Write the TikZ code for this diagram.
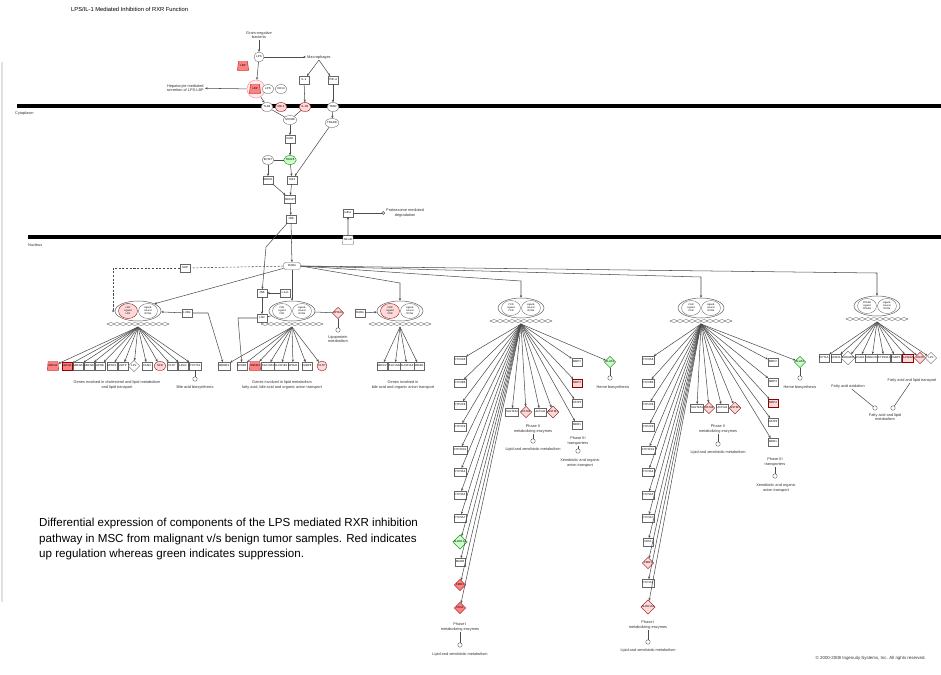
\documentclass[tikz,border=0pt]{standalone}
\usepackage{fontspec}
\setmainfont{Liberation Sans}
\usetikzlibrary{shapes.geometric,arrows.meta,positioning}

\newcommand{\genefont}{\fontsize{1.6}{1.9}\selectfont}
\newcommand{\txtfont}{\fontsize{2.2}{2.7}\selectfont}
\newcommand{\cplxfont}{\fontsize{1.4}{1.7}\selectfont}

\tikzset{
  lnk/.style={draw=black!70, line width=0.3pt},
  arr/.style={lnk, -{Stealth[length=1.5pt,width=1.3pt]}},
  dsh/.style={lnk, dash pattern=on 1.2pt off 0.9pt},
  gene/.style={draw=black!60, line width=0.2pt, fill=white, font=\genefont, inner sep=0.3pt},
  gbox/.style={gene, rectangle, minimum width=0.2cm, minimum height=0.15cm},
  gdia/.style={gene, diamond, inner sep=0pt, minimum width=0.23cm, minimum height=0.23cm},
  gell/.style={gene, ellipse, inner sep=0pt, minimum width=0.24cm, minimum height=0.18cm},
  gcir/.style={gene, circle, inner sep=0pt, minimum size=0.2cm},
  gtrap/.style={gene, trapezium, trapezium stretches=true, trapezium left angle=75,
    trapezium right angle=75, inner sep=0pt, minimum height=0.18cm, minimum width=0.22cm},
  up/.style={fill=red!50, draw=red!60!black},
  upl/.style={fill=red!15, draw=red!55!black},
  dn/.style={fill=green!22, draw=green!45!black},
  nc/.style={},
  proc/.style={draw=black!60, line width=0.25pt, circle, inner sep=0pt, minimum size=0.09cm},
  txt/.style={font=\txtfont, align=center, text=black!80, inner sep=0.5pt},
  membrane/.style={line width=0.08cm, black},
  cplx/.style={draw=black!60, line width=0.3pt, ellipse, minimum width=0.92cm, minimum height=0.4cm, fill=white},
  cpart/.style={draw=black!60, line width=0.2pt, ellipse, inner sep=0pt,
    minimum width=0.38cm, minimum height=0.3cm, font=\cplxfont, align=center},
  dna/.style={draw=black!50, line width=0.25pt}
}

% heterodimer on its DNA: name, x, y, left part, right part, style of left part
\newcommand{\rxrcplx}[6]{%
  \begin{scope}[shift={(#2,#3)}]
    \draw[dna] plot[domain=-31:31,samples=41,smooth] (\x,{13+1.5*sin(\x*30)});
    \draw[dna] plot[domain=-31:31,samples=41,smooth] (\x,{13-1.5*sin(\x*30)});
    \node[cplx] (#1) at (0,0) {};
    \node[cpart,#6] (#1l) at (-10,0) {#4};
    \node[cpart] (#1r) at (10,0) {#5};
    \coordinate (#1d) at (0,16);
  \end{scope}}

\begin{document}
\begin{tikzpicture}[x=0.02cm,y=-0.02cm]
  \useasboundingbox (0,0) rectangle (941,674);

  \node[anchor=west,font=\fontsize{3.3}{4}\selectfont] (title) at (65,9) {LPS/IL-1 Mediated Inhibition of RXR Function};
  \draw[black!12,line width=0.6pt] (2,62) -- (2,602);

  \draw[membrane] (17,106) -- (941,106);
  \node[txt,anchor=west] (cyto) at (14,113) {Cytoplasm};
  \draw[membrane] (28,237) -- (941,237);
  \node[txt,anchor=west] (nucl) at (27,245) {Nucleus};

  % outside the cell and membrane
  \node[txt] (gnb) at (259,35) {Gram-negative\\bacteria};
  \node[gcir] (lps) at (259,57) {LPS};
  \node[gtrap,up] (lbp) at (243,66) {LBP};
  \node[txt,anchor=west] (mac) at (306,57) {Macrophages};
  \node[circle,draw=red!40,line width=0.3pt,fill=red!8,minimum size=0.36cm] (lpslbp) at (256,89) {};
  \node[gtrap,up] (lbp2) at (255,89) {LBP};
  \node[gell] (lps2) at (268,89) {LPS};
  \node[gell] (cd14) at (281,89) {CD14};
  \node[txt,anchor=east] (hep) at (205,88) {Hepatocyte mediated\\secretion of LPS-LBP};
  \node[gbox] (il1) at (304,80) {IL-1};
  \node[gbox] (tnfa) at (333,80) {TNF-α};
  \node[gell] (tlr4) at (267,107) {TLR4};
  \node[gell,upl] (md2) at (281,107) {MD-2};
  \node[gell,upl] (il1r) at (305,107) {IL-1R};
  \node[gell] (tnfr) at (333,107) {TNFR};

  \draw[arr] (gnb) -- (lps);
  \draw[arr] (lps) -- (mac);
  \draw[arr] (lps) -- (lpslbp);
  \draw[arr] (lpslbp) -- (hep);
  \draw[arr] (mac.south) -- (il1);
  \draw[arr] (mac.south) -- (tnfa);
  \draw[arr] (il1) -- (il1r);
  \draw[arr] (tnfa) -- (tnfr);
  \draw[arr] (lpslbp) -- (tlr4);

  % cytoplasm
  \node[gell] (myd88) at (290,120) {MYD88};
  \node[gell] (tradd) at (332,123) {TRADD};
  \node[gbox] (irak) at (290,139) {IRAK};
  \node[gell,dn] (traf6) at (290,160) {TRAF6};
  \node[gell] (ecsit) at (268,160) {ECSIT};
  \node[gbox] (mekk1) at (268,180) {MEKK1};
  \node[gbox] (tak1) at (292,180) {TAK1};
  \node[gbox] (mkk) at (290,199) {MKK4/7};
  \node[gbox] (jnk) at (291,219) {JNK};
  \node[gbox] (ikb) at (348,213) {IκB-α};
  \node[txt,anchor=west] (prot) at (385,213) {Proteasome mediated\\degradation};
  \node[gtrap] (nfkb) at (348,240) {NF-κB};

  \draw[lnk] (tlr4) -- (myd88);
  \draw[lnk] (il1r) -- (myd88);
  \draw[arr] (tnfr) -- (tradd);
  \draw[arr] (myd88) -- (irak);
  \draw[arr] (irak) -- (traf6);
  \draw[lnk] (ecsit) -- (traf6);
  \draw[arr] (ecsit) -- (mekk1);
  \draw[arr] (traf6) -- (tak1);
  \draw[arr] (tradd) -- (tak1);
  \draw[arr] (mekk1) -- (mkk);
  \draw[arr] (tak1) -- (mkk);
  \draw[arr] (mkk) -- (jnk);
  \draw[lnk,-{Circle[open,length=2pt]}] (ikb) -- (prot);
  \draw[arr] (nfkb) -- (ikb);

  % nucleus
  \rxrcplx{c1}{138}{311}{LXR\\Ligand\\LXR}{Ligand-\\bound\\RXRα}{upl}
  \rxrcplx{c2}{292}{311}{FXR\\Ligand\\FXR}{Ligand-\\bound\\RXRα}{nc}
  \rxrcplx{c3}{400}{311}{VDR\\Ligand\\VDR}{Ligand-\\bound\\RXRα}{upl}
  \rxrcplx{c4}{521}{308}{PXR\\Ligand\\PXR}{Ligand-\\bound\\RXRα}{nc}
  \rxrcplx{c5}{701}{308}{CAR\\Ligand\\CAR}{Ligand-\\bound\\RXRα}{nc}
  \rxrcplx{c6}{877}{306}{PPARα\\Ligand\\PPARα}{Ligand-\\bound\\RXRα}{nc}

  \node[gbox,rounded corners=1pt,minimum width=0.34cm] (rxr) at (292,266) {RXRα};
  \node[gbox] (pjnk) at (262,293) {JNK};
  \node[gbox] (cjun) at (285,293) {c-Jun};
  \node[gbox] (lxrs) at (262,318) {LXR};
  \node[gbox] (shp) at (185,268) {SHP};
  \node[gbox] (lxra) at (187,313) {LXRα};
  \node[gbox] (rara) at (360,313) {RARα};
  \coordinate (jb) at (266,247);
  \coordinate (dk) at (113,268);
  \coordinate (lk) at (208,313);
  \coordinate (lxb) at (238,318);
  \coordinate (k3) at (400,283);
  \coordinate (k4) at (521,281);
  \coordinate (k5) at (701,277);
  \coordinate (k6) at (877,273);

  \draw[arr] (jnk) -- (rxr);
  \draw[arr] (jnk) -- (jb) -- (pjnk);
  \draw[arr] (cjun) -- (pjnk);
  \draw[arr] (pjnk) -- (lxrs);
  \draw[lnk] (lxrs) -- (c2);
  \draw[arr] (rxr) -- (c1.north east);
  \draw[arr] (rxr) -- (c2);
  \draw[arr] (rxr.east) -- (k3) -- (c3);
  \draw[arr] (rxr.east) -- (k4) -- (c4);
  \draw[arr] (rxr.east) -- (k5) -- (c5);
  \draw[arr] (rxr.east) -- (k6) -- (c6);
  \draw[dsh] (rxr) -- (shp);
  \draw[dsh,-{Stealth[length=1.5pt,width=1.3pt]}] (shp) -- (dk) |- (c1.west);
  \draw[arr] (lxra) -- (c1);
  \draw[arr] (rara) -- (c3);

  % LXR/RXR targets
  \foreach \gx/\gn/\gsh/\gc [count=\i] in {53/ABCA1/gtrap/up, 67/ABCG1/gbox/up, 78/ABCG5/gbox/nc,
      89/ABCG8/gbox/nc, 100/APOE/gbox/nc, 112/APOC1/gbox/nc, 123/CETP/gbox/nc, 134/LPL/gdia/nc,
      147/FASN/gbox/nc, 160/SCD/gell/upl, 172/PLTP/gbox/nc, 183/LDLR/gbox/nc, 195/CYP7A1/gbox/nc}{
    \node[\gsh,\gc] (c1g\i) at (\gx,366) {\gn};
    \draw[arr] (c1d) -- (c1g\i);
  }
  \node[txt] (c1t) at (117,385) {Genes involved in cholesterol and lipid metabolism\\and lipid transport};
  \node[proc] (c1p) at (195,379) {};
  \node[txt] (c1pt) at (195,387) {Bile acid biosynthesis};
  \draw[lnk] (c1g13) -- (c1p);

  % FXR/RXR targets
  \foreach \gx/\gn/\gsh/\gc [count=\i] in {224/SREBF1/gbox/nc, 242/NR0B2/gbox/nc, 255/ABCB4/gtrap/up,
      268/SLC10A1/gbox/nc, 281/SLCO1B1/gbox/nc, 293/APOA1/gbox/nc, 307/FABP6/gbox/nc, 322/PLTP/gcir/upl}{
    \node[\gsh,\gc] (c2g\i) at (\gx,366) {\gn};
    \draw[arr] (c2d) -- (c2g\i);
  }
  \draw[arr] (lxra) -- (lk) -- (c2g1);
  \draw[arr] (lxrs) -- (lxb) -- (c2g2);
  \node[gdia,upl] (apoa4) at (338,313) {APOA4};
  \node[proc] (c2p) at (338,330) {};
  \node[txt] (c2pt) at (338,339) {Lipoprotein\\metabolism};
  \draw[lnk] (c2) -- (apoa4);
  \draw[lnk] (apoa4) -- (c2p);
  \node[txt] (c2t) at (282,385) {Genes involved in lipid metabolism\\fatty acid, bile acid and organic anion transport};

  % third heterodimer
  \foreach \gx/\gn [count=\i] in {382/ABCC2, 395/SLC10A2, 407/SLCO1A2, 419/ABCB1}{
    \node[gbox] (c3g\i) at (\gx,366) {\gn};
    \draw[arr] (c3d) -- (c3g\i);
  }
  \node[txt] (c3t) at (403,385) {Genes involved in\\bile acid and organic anion transport};

  % PXR/RXR targets
  \foreach \gy/\gn/\gsh/\gc [count=\i] in {360/CYP2A6/gbox/nc, 383/CYP2B6/gbox/nc, 405/CYP2C8/gbox/nc,
      427/CYP2C9/gbox/nc, 450/CYP2C19/gbox/nc, 472/CYP3A4/gbox/nc, 495/CYP3A5/gbox/nc,
      518/CYP3A7/gbox/nc, 542/ALDH1A1/gdia/dn, 562/MAOB/gbox/nc, 585/FMO1/gdia/up, 608/CES1/gdia/up}{
    \node[\gsh,\gc] (c4a\i) at (460,\gy) {\gn};
    \draw[arr] (c4d) -- (c4a\i);
  }
  \node[txt] (c4at) at (460,627) {Phase I\\metabolizing enzymes};
  \node[proc] (c4ap) at (460,645) {};
  \node[txt] (c4ax) at (460,654) {Lipid and xenobiotic metabolism};
  \draw[lnk] (c4at) -- (c4ap);
  \foreach \gx/\gn/\gsh/\gc [count=\i] in {512/SULT2A1/gbox/nc, 526/GSTA2/gdia/upl, 540/UGT1A1/gbox/nc, 553/GSTM1/gdia/upl}{
    \node[\gsh,\gc] (c4b\i) at (\gx,412) {\gn};
    \draw[arr] (c4d) -- (c4b\i);
  }
  \node[txt] (c4bt) at (533,429) {Phase II\\metabolizing enzymes};
  \node[proc] (c4bp) at (533,441) {};
  \node[txt] (c4bx) at (533,449) {Lipid and xenobiotic metabolism};
  \draw[lnk] (c4bt) -- (c4bp);
  \foreach \gy/\gn/\gc [count=\i] in {362/MRP2/nc, 383/MRP3/upl, 403/OATP2/nc, 425/MDR1/nc}{
    \node[gbox,\gc] (c4c\i) at (577,\gy) {\gn};
    \draw[arr] (c4d) -- (c4c\i);
  }
  \node[txt] (c4ct) at (578,441) {Phase III\\transporters};
  \node[proc] (c4cp) at (578,451) {};
  \node[txt] (c4cx) at (580,463) {Xenobiotic and organic\\anion transport};
  \draw[lnk] (c4ct) -- (c4cp);
  \node[gdia,dn] (c4e) at (610,362) {ALAS1};
  \node[proc] (c4ep) at (610,378) {};
  \node[txt] (c4ex) at (613,387) {Heme biosynthesis};
  \draw[arr] (c4d) -- (c4e);
  \draw[lnk] (c4e) -- (c4ep);

  % CAR/RXR targets
  \foreach \gy/\gn/\gsh/\gc [count=\i] in {360/CYP2A6/gbox/nc, 383/CYP2B6/gbox/nc, 405/CYP2C8/gbox/nc,
      427/CYP2C9/gbox/nc, 450/CYP2C19/gbox/nc, 472/CYP3A4/gbox/nc, 495/CYP3A5/gbox/nc,
      518/CYP3A7/gbox/nc, 542/CES1/gbox/nc, 563/FMO1/gdia/upl, 583/CYP1A1/gbox/nc, 607/ALDH1A1/gdia/upl}{
    \node[\gsh,\gc] (c5a\i) at (648,\gy) {\gn};
    \draw[arr] (c5d) -- (c5a\i);
  }
  \node[txt] (c5at) at (648,625) {Phase I\\metabolizing enzymes};
  \node[proc] (c5ap) at (648,642) {};
  \node[txt] (c5ax) at (648,650) {Lipid and xenobiotic metabolism};
  \draw[lnk] (c5at) -- (c5ap);
  \foreach \gx/\gn/\gsh/\gc [count=\i] in {697/SULT2A1/gbox/nc, 709/GSTA2/gdia/upl, 722/UGT1A1/gbox/nc, 735/GSTM1/gdia/upl}{
    \node[\gsh,\gc] (c5b\i) at (\gx,408) {\gn};
    \draw[arr] (c5d) -- (c5b\i);
  }
  \node[txt] (c5bt) at (718,429) {Phase II\\metabolizing enzymes};
  \node[proc] (c5bp) at (718,444) {};
  \node[txt] (c5bx) at (718,452) {Lipid and xenobiotic metabolism};
  \draw[lnk] (c5bt) -- (c5bp);
  \foreach \gy/\gn/\gc [count=\i] in {362/MRP2/nc, 382/MRP3/nc, 403/MRP4/upl, 422/OATP2/nc, 442/MDR1/nc}{
    \node[gbox,\gc] (c5c\i) at (773,\gy) {\gn};
    \draw[arr] (c5d) -- (c5c\i);
  }
  \node[txt] (c5ct) at (775,462) {Phase III\\transporters};
  \node[proc] (c5cp) at (775,476) {};
  \node[txt] (c5cx) at (776,488) {Xenobiotic and organic\\anion transport};
  \draw[lnk] (c5ct) -- (c5cp);
  \node[gdia,dn] (c5e) at (800,362) {ALAS1};
  \node[proc] (c5ep) at (800,378) {};
  \node[txt] (c5ex) at (800,387) {Heme biosynthesis};
  \draw[arr] (c5d) -- (c5e);
  \draw[lnk] (c5e) -- (c5ep);

  % PPARa/RXR targets
  \foreach \gx/\gn/\gsh/\gc [count=\i] in {824/CPT1A/gbox/nc, 836/ACOX1/gbox/nc, 848/EHHADH/gdia/nc,
      860/ACAA1/gbox/nc, 872/HMGCS2/gbox/nc, 884/CYP4A11/gbox/nc, 896/FABP1/gbox/nc,
      908/ACADM/gbox/upl, 920/CD36/gdia/upl, 931/LPL/gdia/nc}{
    \node[\gsh,\gc] (c6g\i) at (\gx,358) {\gn};
    \draw[arr] (c6d) -- (c6g\i);
  }
  \node[txt] (fao) at (848,386) {Fatty acid oxidation};
  \node[txt] (falt) at (912,380) {Fatty acid and lipid transport};
  \node[proc] (fap1) at (875,408) {};
  \node[proc] (fap2) at (893,408) {};
  \node[txt] (fam) at (885,417) {Fatty acid and lipid\\metabolism};
  \draw[lnk] (fao) -- (fap1);
  \draw[lnk] (falt) -- (fap2);

  \node[anchor=north west,align=left,font=\fontsize{6.6}{8.9}\selectfont] (caption) at (33,512)
    {Differential expression of components of the LPS mediated RXR inhibition\\
     pathway in MSC from malignant v/s benign tumor samples. Red indicates\\
     up regulation whereas green indicates suppression.};
  \node[anchor=east,font=\fontsize{2.5}{3}\selectfont,text=black!80] (copy) at (932,658)
    {© 2000-2008 Ingenuity Systems, Inc. All rights reserved.};
\end{tikzpicture}
\end{document}
